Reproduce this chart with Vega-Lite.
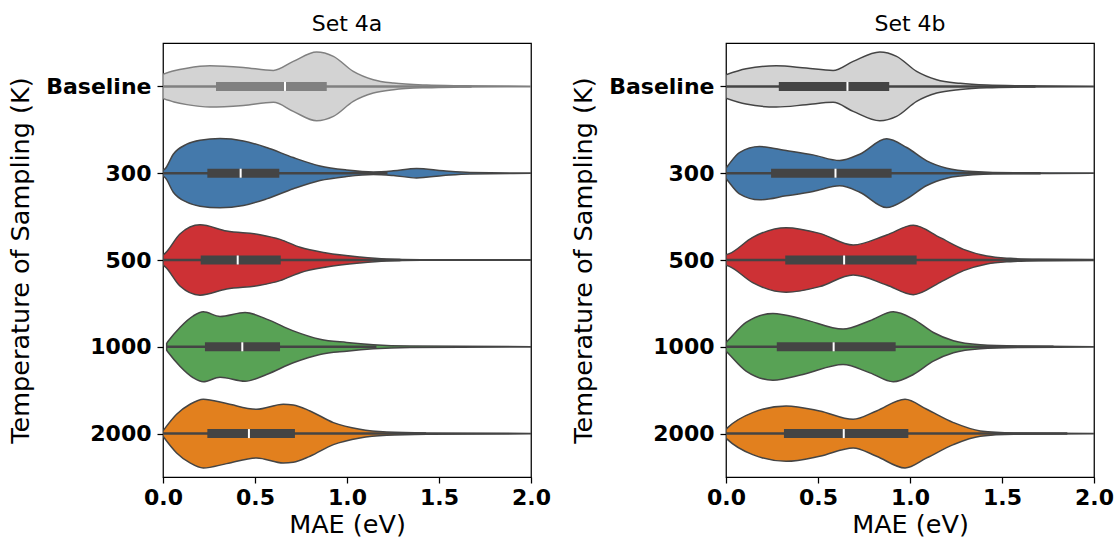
{
  "$schema": "https://vega.github.io/schema/vega-lite/v6.json",
  "background": "white",
  "padding": {"left": 8, "top": 12, "right": 5, "bottom": 5},
  "spacing": 19,
  "config": {
    "view": {"stroke": "black", "strokeWidth": 1.25},
    "font": "DejaVu Sans",
    "axis": {"labelFont": "DejaVu Sans", "titleFont": "DejaVu Sans", "labelColor": "black", "titleColor": "black", "tickColor": "black", "domain": false, "grid": false, "tickSize": 6, "tickWidth": 1.25, "labelFontWeight": "bold", "labelFontSize": 22, "titleFontSize": 25.5, "titleFontWeight": "normal"},
    "title": {"font": "DejaVu Sans", "fontSize": 22, "fontWeight": "normal", "color": "black", "offset": 7}
  },
  "datasets": {
    "violin": [
      {"set": "4a", "cat": "Baseline", "x": 0.0, "d": 0.14},
      {"set": "4a", "cat": "Baseline", "x": 0.06, "d": 0.18},
      {"set": "4a", "cat": "Baseline", "x": 0.13, "d": 0.21},
      {"set": "4a", "cat": "Baseline", "x": 0.255, "d": 0.238},
      {"set": "4a", "cat": "Baseline", "x": 0.437, "d": 0.219},
      {"set": "4a", "cat": "Baseline", "x": 0.6, "d": 0.184},
      {"set": "4a", "cat": "Baseline", "x": 0.708, "d": 0.288},
      {"set": "4a", "cat": "Baseline", "x": 0.835, "d": 0.396},
      {"set": "4a", "cat": "Baseline", "x": 0.926, "d": 0.346},
      {"set": "4a", "cat": "Baseline", "x": 1.034, "d": 0.173},
      {"set": "4a", "cat": "Baseline", "x": 1.143, "d": 0.077},
      {"set": "4a", "cat": "Baseline", "x": 1.252, "d": 0.038},
      {"set": "4a", "cat": "Baseline", "x": 1.433, "d": 0.015},
      {"set": "4a", "cat": "Baseline", "x": 1.614, "d": 0.008},
      {"set": "4a", "cat": "Baseline", "x": 2.0, "d": 0.003},

      {"set": "4a", "cat": "300", "x": 0.0, "d": 0.035},
      {"set": "4a", "cat": "300", "x": 0.011, "d": 0.05},
      {"set": "4a", "cat": "300", "x": 0.056, "d": 0.219},
      {"set": "4a", "cat": "300", "x": 0.129, "d": 0.334},
      {"set": "4a", "cat": "300", "x": 0.201, "d": 0.38},
      {"set": "4a", "cat": "300", "x": 0.31, "d": 0.399},
      {"set": "4a", "cat": "300", "x": 0.437, "d": 0.372},
      {"set": "4a", "cat": "300", "x": 0.563, "d": 0.296},
      {"set": "4a", "cat": "300", "x": 0.708, "d": 0.18},
      {"set": "4a", "cat": "300", "x": 0.853, "d": 0.084},
      {"set": "4a", "cat": "300", "x": 0.998, "d": 0.038},
      {"set": "4a", "cat": "300", "x": 1.143, "d": 0.015},
      {"set": "4a", "cat": "300", "x": 1.252, "d": 0.027},
      {"set": "4a", "cat": "300", "x": 1.378, "d": 0.054},
      {"set": "4a", "cat": "300", "x": 1.524, "d": 0.027},
      {"set": "4a", "cat": "300", "x": 1.668, "d": 0.008},
      {"set": "4a", "cat": "300", "x": 2.0, "d": 0.002},

      {"set": "4a", "cat": "500", "x": 0.0, "d": 0.06},
      {"set": "4a", "cat": "500", "x": 0.011, "d": 0.077},
      {"set": "4a", "cat": "500", "x": 0.092, "d": 0.3},
      {"set": "4a", "cat": "500", "x": 0.201, "d": 0.405},
      {"set": "4a", "cat": "500", "x": 0.346, "d": 0.334},
      {"set": "4a", "cat": "500", "x": 0.527, "d": 0.292},
      {"set": "4a", "cat": "500", "x": 0.636, "d": 0.238},
      {"set": "4a", "cat": "500", "x": 0.745, "d": 0.146},
      {"set": "4a", "cat": "500", "x": 0.889, "d": 0.081},
      {"set": "4a", "cat": "500", "x": 1.07, "d": 0.035},
      {"set": "4a", "cat": "500", "x": 1.216, "d": 0.012},
      {"set": "4a", "cat": "500", "x": 1.4, "d": 0.004},
      {"set": "4a", "cat": "500", "x": 2.0, "d": 0.002},

      {"set": "4a", "cat": "1000", "x": 0.02, "d": 0.04},
      {"set": "4a", "cat": "1000", "x": 0.03, "d": 0.069},
      {"set": "4a", "cat": "1000", "x": 0.092, "d": 0.223},
      {"set": "4a", "cat": "1000", "x": 0.165, "d": 0.357},
      {"set": "4a", "cat": "1000", "x": 0.219, "d": 0.403},
      {"set": "4a", "cat": "1000", "x": 0.31, "d": 0.35},
      {"set": "4a", "cat": "1000", "x": 0.446, "d": 0.396},
      {"set": "4a", "cat": "1000", "x": 0.563, "d": 0.319},
      {"set": "4a", "cat": "1000", "x": 0.708, "d": 0.184},
      {"set": "4a", "cat": "1000", "x": 0.853, "d": 0.088},
      {"set": "4a", "cat": "1000", "x": 0.998, "d": 0.05},
      {"set": "4a", "cat": "1000", "x": 1.143, "d": 0.023},
      {"set": "4a", "cat": "1000", "x": 1.342, "d": 0.008},
      {"set": "4a", "cat": "1000", "x": 2.0, "d": 0.002},

      {"set": "4a", "cat": "2000", "x": 0.0, "d": 0.031},
      {"set": "4a", "cat": "2000", "x": 0.074, "d": 0.223},
      {"set": "4a", "cat": "2000", "x": 0.147, "d": 0.338},
      {"set": "4a", "cat": "2000", "x": 0.219, "d": 0.396},
      {"set": "4a", "cat": "2000", "x": 0.346, "d": 0.346},
      {"set": "4a", "cat": "2000", "x": 0.509, "d": 0.28},
      {"set": "4a", "cat": "2000", "x": 0.654, "d": 0.338},
      {"set": "4a", "cat": "2000", "x": 0.708, "d": 0.33},
      {"set": "4a", "cat": "2000", "x": 0.799, "d": 0.261},
      {"set": "4a", "cat": "2000", "x": 0.926, "d": 0.127},
      {"set": "4a", "cat": "2000", "x": 1.07, "d": 0.05},
      {"set": "4a", "cat": "2000", "x": 1.216, "d": 0.019},
      {"set": "4a", "cat": "2000", "x": 1.433, "d": 0.008},
      {"set": "4a", "cat": "2000", "x": 2.0, "d": 0.002},

      {"set": "4b", "cat": "Baseline", "x": 0.0, "d": 0.135},
      {"set": "4b", "cat": "Baseline", "x": 0.109, "d": 0.204},
      {"set": "4b", "cat": "Baseline", "x": 0.273, "d": 0.238},
      {"set": "4b", "cat": "Baseline", "x": 0.436, "d": 0.211},
      {"set": "4b", "cat": "Baseline", "x": 0.582, "d": 0.184},
      {"set": "4b", "cat": "Baseline", "x": 0.691, "d": 0.288},
      {"set": "4b", "cat": "Baseline", "x": 0.836, "d": 0.396},
      {"set": "4b", "cat": "Baseline", "x": 0.927, "d": 0.346},
      {"set": "4b", "cat": "Baseline", "x": 1.036, "d": 0.173},
      {"set": "4b", "cat": "Baseline", "x": 1.145, "d": 0.077},
      {"set": "4b", "cat": "Baseline", "x": 1.273, "d": 0.035},
      {"set": "4b", "cat": "Baseline", "x": 1.418, "d": 0.015},
      {"set": "4b", "cat": "Baseline", "x": 1.6, "d": 0.008},
      {"set": "4b", "cat": "Baseline", "x": 2.0, "d": 0.003},

      {"set": "4b", "cat": "300", "x": 0.0, "d": 0.06},
      {"set": "4b", "cat": "300", "x": 0.009, "d": 0.084},
      {"set": "4b", "cat": "300", "x": 0.073, "d": 0.238},
      {"set": "4b", "cat": "300", "x": 0.182, "d": 0.307},
      {"set": "4b", "cat": "300", "x": 0.327, "d": 0.261},
      {"set": "4b", "cat": "300", "x": 0.473, "d": 0.211},
      {"set": "4b", "cat": "300", "x": 0.618, "d": 0.146},
      {"set": "4b", "cat": "300", "x": 0.727, "d": 0.219},
      {"set": "4b", "cat": "300", "x": 0.873, "d": 0.396},
      {"set": "4b", "cat": "300", "x": 0.982, "d": 0.296},
      {"set": "4b", "cat": "300", "x": 1.091, "d": 0.142},
      {"set": "4b", "cat": "300", "x": 1.2, "d": 0.058},
      {"set": "4b", "cat": "300", "x": 1.345, "d": 0.019},
      {"set": "4b", "cat": "300", "x": 1.564, "d": 0.004},
      {"set": "4b", "cat": "300", "x": 2.0, "d": 0.002},

      {"set": "4b", "cat": "500", "x": 0.0, "d": 0.06},
      {"set": "4b", "cat": "500", "x": 0.018, "d": 0.073},
      {"set": "4b", "cat": "500", "x": 0.145, "d": 0.261},
      {"set": "4b", "cat": "500", "x": 0.327, "d": 0.372},
      {"set": "4b", "cat": "500", "x": 0.509, "d": 0.307},
      {"set": "4b", "cat": "500", "x": 0.691, "d": 0.173},
      {"set": "4b", "cat": "500", "x": 0.873, "d": 0.288},
      {"set": "4b", "cat": "500", "x": 1.018, "d": 0.399},
      {"set": "4b", "cat": "500", "x": 1.164, "d": 0.257},
      {"set": "4b", "cat": "500", "x": 1.291, "d": 0.123},
      {"set": "4b", "cat": "500", "x": 1.418, "d": 0.046},
      {"set": "4b", "cat": "500", "x": 1.545, "d": 0.019},
      {"set": "4b", "cat": "500", "x": 1.7, "d": 0.008},
      {"set": "4b", "cat": "500", "x": 2.0, "d": 0.003},

      {"set": "4b", "cat": "1000", "x": 0.0, "d": 0.05},
      {"set": "4b", "cat": "1000", "x": 0.009, "d": 0.069},
      {"set": "4b", "cat": "1000", "x": 0.109, "d": 0.28},
      {"set": "4b", "cat": "1000", "x": 0.255, "d": 0.384},
      {"set": "4b", "cat": "1000", "x": 0.418, "d": 0.319},
      {"set": "4b", "cat": "1000", "x": 0.636, "d": 0.204},
      {"set": "4b", "cat": "1000", "x": 0.782, "d": 0.3},
      {"set": "4b", "cat": "1000", "x": 0.909, "d": 0.403},
      {"set": "4b", "cat": "1000", "x": 1.018, "d": 0.319},
      {"set": "4b", "cat": "1000", "x": 1.127, "d": 0.165},
      {"set": "4b", "cat": "1000", "x": 1.236, "d": 0.069},
      {"set": "4b", "cat": "1000", "x": 1.382, "d": 0.023},
      {"set": "4b", "cat": "1000", "x": 1.6, "d": 0.008},
      {"set": "4b", "cat": "1000", "x": 2.0, "d": 0.002},

      {"set": "4b", "cat": "2000", "x": 0.0, "d": 0.05},
      {"set": "4b", "cat": "2000", "x": 0.009, "d": 0.069},
      {"set": "4b", "cat": "2000", "x": 0.145, "d": 0.242},
      {"set": "4b", "cat": "2000", "x": 0.327, "d": 0.319},
      {"set": "4b", "cat": "2000", "x": 0.509, "d": 0.261},
      {"set": "4b", "cat": "2000", "x": 0.691, "d": 0.165},
      {"set": "4b", "cat": "2000", "x": 0.818, "d": 0.261},
      {"set": "4b", "cat": "2000", "x": 0.973, "d": 0.396},
      {"set": "4b", "cat": "2000", "x": 1.091, "d": 0.28},
      {"set": "4b", "cat": "2000", "x": 1.236, "d": 0.127},
      {"set": "4b", "cat": "2000", "x": 1.382, "d": 0.031},
      {"set": "4b", "cat": "2000", "x": 1.564, "d": 0.008},
      {"set": "4b", "cat": "2000", "x": 2.0, "d": 0.002}
    ],
    "box": [
      {"set": "4a", "cat": "Baseline", "wlo": 0.0, "q1": 0.288, "med": 0.663, "q3": 0.89, "whi": 1.677},
      {"set": "4a", "cat": "300", "wlo": 0.0, "q1": 0.241, "med": 0.422, "q3": 0.632, "whi": 1.22},
      {"set": "4a", "cat": "500", "wlo": 0.0, "q1": 0.205, "med": 0.406, "q3": 0.64, "whi": 1.29},
      {"set": "4a", "cat": "1000", "wlo": 0.02, "q1": 0.228, "med": 0.431, "q3": 0.636, "whi": 1.16},
      {"set": "4a", "cat": "2000", "wlo": 0.0, "q1": 0.241, "med": 0.467, "q3": 0.717, "whi": 1.43},
      {"set": "4b", "cat": "Baseline", "wlo": 0.0, "q1": 0.287, "med": 0.66, "q3": 0.887, "whi": 1.682},
      {"set": "4b", "cat": "300", "wlo": 0.0, "q1": 0.245, "med": 0.595, "q3": 0.9, "whi": 1.71},
      {"set": "4b", "cat": "500", "wlo": 0.0, "q1": 0.322, "med": 0.642, "q3": 1.036, "whi": 2.0},
      {"set": "4b", "cat": "1000", "wlo": 0.0, "q1": 0.276, "med": 0.585, "q3": 0.922, "whi": 1.78},
      {"set": "4b", "cat": "2000", "wlo": 0.0, "q1": 0.315, "med": 0.64, "q3": 0.991, "whi": 1.855}
    ]
  },
  "hconcat": [
    {
      "width": 368,
      "height": 434,
      "title": "Set 4a",
      "layer": [
        {
          "data": {"name": "violin"},
          "transform": [
            {"filter": "datum.set === '4a'"},
            {"calculate": "indexof(['Baseline','300','500','1000','2000'], datum.cat)", "as": "idx"},
            {"calculate": "datum.idx - datum.d", "as": "lo"},
            {"calculate": "datum.idx + datum.d", "as": "hi"}
          ],
          "mark": {"type": "area", "orient": "vertical", "interpolate": "monotone", "strokeWidth": 1.5, "opacity": 1, "clip": true},
          "encoding": {
            "x": {"field": "x", "type": "quantitative", "scale": {"domain": [0, 2], "nice": false, "zero": false},
              "axis": {"values": [0, 0.5, 1, 1.5, 2], "format": ".1f", "title": "MAE (eV)", "labelPadding": 4, "titlePadding": 4, "labelFlush": false, "labelOverlap": false}},
            "y": {"field": "lo", "type": "quantitative", "scale": {"domain": [-0.5, 4.5], "reverse": true, "nice": false, "zero": false},
              "axis": {"values": [0, 1, 2, 3, 4], "labelExpr": "['Baseline','300','500','1000','2000'][datum.value]", "title": "Temperature of Sampling (K)", "labelPadding": 6, "titlePadding": 12}},
            "y2": {"field": "hi"},
            "detail": {"field": "cat", "type": "nominal"},
            "fill": {"field": "cat", "type": "nominal", "scale": {"domain": ["Baseline", "300", "500", "1000", "2000"], "range": ["#d3d3d3", "#4479ab", "#cd3135", "#58a255", "#e2801e"]}, "legend": null},
            "stroke": {"condition": {"test": "datum.cat === 'Baseline'", "value": "#808080"}, "value": "#444444"}
          }
        },
        {
          "data": {"name": "box"},
          "transform": [
            {"filter": "datum.set === '4a'"},
            {"calculate": "indexof(['Baseline','300','500','1000','2000'], datum.cat)", "as": "idx"}
          ],
          "mark": {"type": "rule", "strokeWidth": 2.5, "clip": true},
          "encoding": {
            "x": {"field": "wlo", "type": "quantitative"},
            "x2": {"field": "whi"},
            "y": {"field": "idx", "type": "quantitative"},
            "color": {"condition": {"test": "datum.cat === 'Baseline'", "value": "#808080"}, "value": "#444444"}
          }
        },
        {
          "data": {"name": "box"},
          "transform": [
            {"filter": "datum.set === '4a'"},
            {"calculate": "indexof(['Baseline','300','500','1000','2000'], datum.cat)", "as": "idx"}
          ],
          "mark": {"type": "rule", "strokeWidth": 9},
          "encoding": {
            "x": {"field": "q1", "type": "quantitative"},
            "x2": {"field": "q3"},
            "y": {"field": "idx", "type": "quantitative"},
            "color": {"condition": {"test": "datum.cat === 'Baseline'", "value": "#808080"}, "value": "#444444"}
          }
        },
        {
          "data": {"name": "box"},
          "transform": [
            {"filter": "datum.set === '4a'"},
            {"calculate": "indexof(['Baseline','300','500','1000','2000'], datum.cat)", "as": "idx"}
          ],
          "mark": {"type": "tick", "orient": "vertical", "size": 9, "thickness": 2, "color": "white", "opacity": 1},
          "encoding": {
            "x": {"field": "med", "type": "quantitative"},
            "y": {"field": "idx", "type": "quantitative"}
          }
        }
      ]
    },
    {
      "width": 368,
      "height": 434,
      "title": "Set 4b",
      "layer": [
        {
          "data": {"name": "violin"},
          "transform": [
            {"filter": "datum.set === '4b'"},
            {"calculate": "indexof(['Baseline','300','500','1000','2000'], datum.cat)", "as": "idx"},
            {"calculate": "datum.idx - datum.d", "as": "lo"},
            {"calculate": "datum.idx + datum.d", "as": "hi"}
          ],
          "mark": {"type": "area", "orient": "vertical", "interpolate": "monotone", "strokeWidth": 1.5, "opacity": 1, "clip": true, "stroke": "#444444"},
          "encoding": {
            "x": {"field": "x", "type": "quantitative", "scale": {"domain": [0, 2], "nice": false, "zero": false},
              "axis": {"values": [0, 0.5, 1, 1.5, 2], "format": ".1f", "title": "MAE (eV)", "labelPadding": 4, "titlePadding": 4, "labelFlush": false, "labelOverlap": false}},
            "y": {"field": "lo", "type": "quantitative", "scale": {"domain": [-0.5, 4.5], "reverse": true, "nice": false, "zero": false},
              "axis": {"values": [0, 1, 2, 3, 4], "labelExpr": "['Baseline','300','500','1000','2000'][datum.value]", "title": "Temperature of Sampling (K)", "labelPadding": 6, "titlePadding": 12}},
            "y2": {"field": "hi"},
            "detail": {"field": "cat", "type": "nominal"},
            "fill": {"field": "cat", "type": "nominal", "scale": {"domain": ["Baseline", "300", "500", "1000", "2000"], "range": ["#d3d3d3", "#4479ab", "#cd3135", "#58a255", "#e2801e"]}, "legend": null}
          }
        },
        {
          "data": {"name": "box"},
          "transform": [
            {"filter": "datum.set === '4b'"},
            {"calculate": "indexof(['Baseline','300','500','1000','2000'], datum.cat)", "as": "idx"}
          ],
          "mark": {"type": "rule", "strokeWidth": 2.5, "color": "#444444", "clip": true},
          "encoding": {
            "x": {"field": "wlo", "type": "quantitative"},
            "x2": {"field": "whi"},
            "y": {"field": "idx", "type": "quantitative"}
          }
        },
        {
          "data": {"name": "box"},
          "transform": [
            {"filter": "datum.set === '4b'"},
            {"calculate": "indexof(['Baseline','300','500','1000','2000'], datum.cat)", "as": "idx"}
          ],
          "mark": {"type": "rule", "strokeWidth": 9, "color": "#444444"},
          "encoding": {
            "x": {"field": "q1", "type": "quantitative"},
            "x2": {"field": "q3"},
            "y": {"field": "idx", "type": "quantitative"}
          }
        },
        {
          "data": {"name": "box"},
          "transform": [
            {"filter": "datum.set === '4b'"},
            {"calculate": "indexof(['Baseline','300','500','1000','2000'], datum.cat)", "as": "idx"}
          ],
          "mark": {"type": "tick", "orient": "vertical", "size": 9, "thickness": 2, "color": "white", "opacity": 1},
          "encoding": {
            "x": {"field": "med", "type": "quantitative"},
            "y": {"field": "idx", "type": "quantitative"}
          }
        }
      ]
    }
  ]
}
